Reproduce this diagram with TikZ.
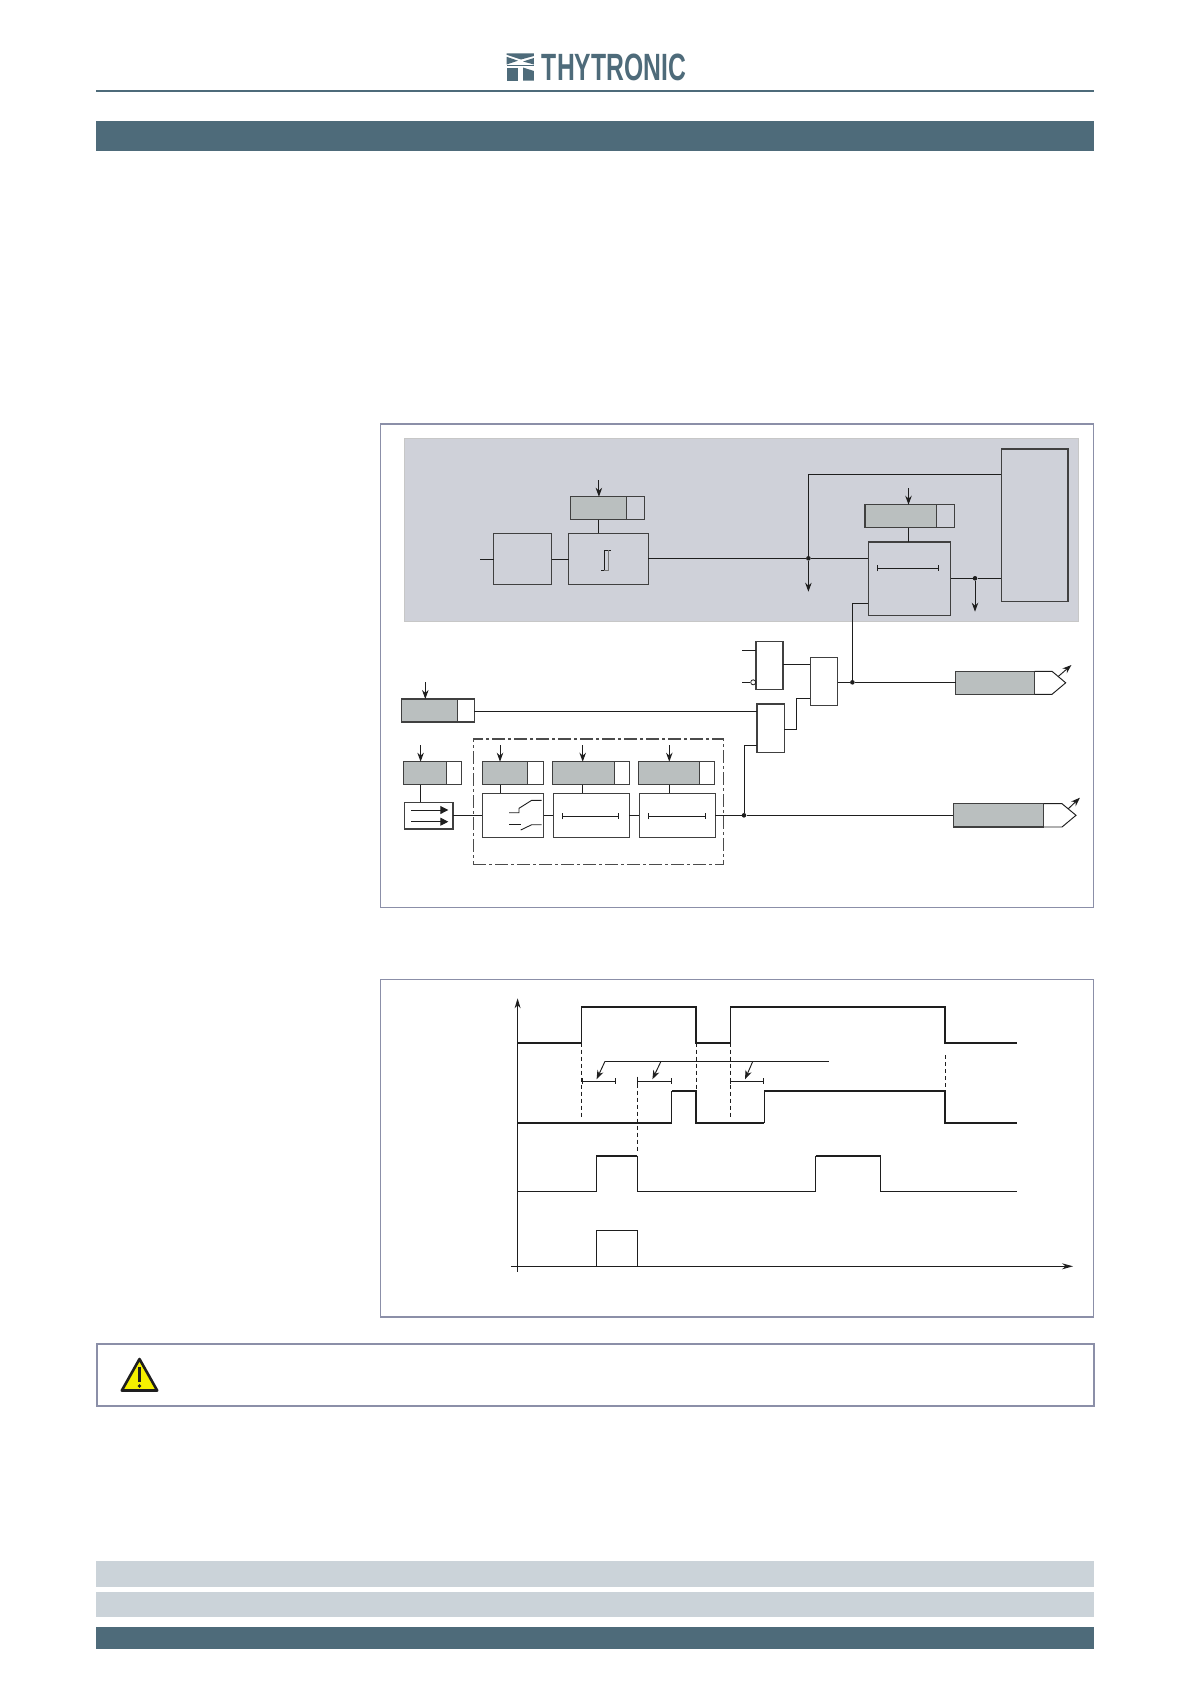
\documentclass[tikz,border=0pt]{standalone}
\usepackage{fontspec}
\setmainfont{Liberation Sans}
\usetikzlibrary{calc,arrows.meta}

\definecolor{thyblue}{HTML}{4E6B7A}
\definecolor{thylight}{HTML}{CBD3D9}
\definecolor{panelline}{HTML}{8B8FA8}
\definecolor{areagray}{HTML}{CFD1D9}
\definecolor{setgray}{HTML}{BABFBF}
\definecolor{inkline}{HTML}{1E1E1E}
\definecolor{warnyellow}{HTML}{F5F000}

\tikzset{
  panel/.style={draw=panelline, line width=1.8pt},
  blockbox/.style={draw=inkline!85, line width=1.1pt, inner sep=0pt, outer sep=0pt},
  setbox/.style={blockbox, fill=setgray},
  valbox/.style={blockbox},
  wire/.style={draw=inkline, line width=0.95pt},
  setarrow/.style={wire, -{Stealth[length=9pt,width=6.5pt]}},
  timerbar/.style={wire, {Bar[width=6pt]}-{Bar[width=6pt]}},
  jointdot/.style={circle, fill=inkline, inner sep=0pt, minimum size=4.6pt},
  trace/.style={draw=inkline, line width=1.05pt},
  tracethick/.style={draw=inkline, line width=2pt},
  guide/.style={draw=inkline, line width=0.9pt, dash pattern=on 4pt off 3pt}
}

\begin{document}
\begin{tikzpicture}[x=1pt,y=-1pt]
  \useasboundingbox (0,0) rectangle (1190,1684);

  % page furniture
  \draw[thyblue, line width=1.8pt] (96,91) -- (1094,91);
  \fill[thyblue] (96,121) rectangle (1094,150.7);
  \fill[thylight] (96,1561) rectangle (1094,1586.7);
  \fill[thylight] (96,1592) rectangle (1094,1616.7);
  \fill[thyblue] (96,1627.3) rectangle (1094,1649);

  % logo
  \fill[thyblue] (506.7,53.3) -- (533.9,53.3) -- (533.9,56) -- (521,59.5) -- (506.7,54.8) -- cycle;
  \fill[thyblue] (506.7,56.8) -- (518,60.7) -- (506.7,64.5) -- cycle;
  \fill[thyblue] (533.9,58) -- (523,61.5) -- (533.9,64.5) -- cycle;
  \fill[thyblue] (506.7,64.5) rectangle (533.9,66);
  \fill[thyblue] (506.7,67.5) rectangle (518,80.7);
  \fill[thyblue] (523,67.5) -- (533.9,71) -- (533.9,80.7) -- (523,80.7) -- cycle;
  \node[xscale=0.65, inner sep=0pt, text=thyblue, font=\fontsize{38}{38}\selectfont\bfseries] (logo) at (614,67) {THYTRONIC};

  % panels
  \draw[panel] (380.4,424) rectangle (1093.4,907.5);
  \draw[panel] (380.4,979.5) rectangle (1093.4,1316.7);
  \draw[panel] (96.7,1344) rectangle (1094,1406);

  % grey area of the upper part
  \fill[areagray] (404,438.3) rectangle (1078.8,621.7);
  \draw[draw=black!22, line width=0.8pt] (404,438.3) rectangle (1078.8,621.7);

  % function blocks
  \foreach \n/\xa/\ya/\xb/\yb in {
    filter/493.6/533.3/551.7/584.7,
    hyst/568.7/533.3/648.4/584.7,
    delay/868.4/542/950.5/615.3,
    logic/1001.4/449/1068/601.3,
    gateA/756/641.7/783/689.7,
    gateB/810.4/657.3/837.8/705.7,
    gateC/757/704/784.4/752.3,
    binin/404.5/802.3/453/829,
    switch/482.3/793.3/543.7/837.7,
    timerA/553.3/793.3/629.3/837.7,
    timerB/639.3/793.3/715.3/837.7
  }
    \node[blockbox, anchor=north west, minimum width=\xb-\xa, minimum height=\yb-\ya] (\n) at (\xa,\ya) {};

  % setting boxes with their value cell and entry arrow
  \foreach \n/\xa/\xb/\xc/\ya/\xin/\yin in {
    setHyst/570.6/626.7/644.7/496.7/598.9/480,
    setDelay/865/936.8/954.7/504.7/908.5/488.3,
    setGate/401.2/457.4/474.4/699/425.3/682.3,
    setBin/403.6/446.5/461.6/761.7/420.6/745,
    setSwitch/482.3/527.7/543.7/761.7/500/745,
    setTimerA/552.7/614.3/629.7/761.7/582.7/745,
    setTimerB/638.3/699.7/714.7/761.7/669.3/745
  }{
    \node[setbox, anchor=north west, minimum width=\xb-\xa, minimum height=23] (\n) at (\xa,\ya) {};
    \node[valbox, anchor=north west, minimum width=\xc-\xb, minimum height=23] (val\n) at (\xb,\ya) {};
    \coordinate (in\n) at (\xin,\yin);
    \draw[setarrow] (in\n) -- (in\n |- \n.north);
  }

  \draw[wire] (insetHyst |- setHyst.south) -- (insetHyst |- hyst.north);
  \draw[wire] (insetDelay |- setDelay.south) -- (insetDelay |- delay.north);
  \draw[wire] (insetBin |- setBin.south) -- (insetBin |- binin.north);
  \draw[wire] (insetSwitch |- setSwitch.south) -- (insetSwitch |- switch.north);
  \draw[wire] (insetTimerA |- setTimerA.south) -- (insetTimerA |- timerA.north);
  \draw[wire] (insetTimerB |- setTimerB.south) -- (insetTimerB |- timerB.north);

  % upper signal path
  \coordinate (filter in) at (480,559.3);
  \draw[wire] (filter in) -- (filter in -| filter.west);
  \draw[wire] (filter.east) -- (hyst.west);
  \node[jointdot] (joint start) at (808.4,558.3) {};
  \draw[wire] (hyst.east |- joint start) -- (joint start) -- (joint start -| delay.west);
  \coordinate (start out) at (808.4,591.7);
  \draw[setarrow] (joint start) -- (start out);
  \coordinate (logic back) at (1001.4,474.3);
  \draw[wire] (joint start) -- (joint start |- logic back) -- (logic back);
  \node[jointdot] (joint trip) at (975,578.3) {};
  \draw[wire] (delay.east |- joint trip) -- (joint trip) -- (joint trip -| logic.west);
  \coordinate (trip out) at (975,611.7);
  \draw[setarrow] (joint trip) -- (trip out);

  % glyphs inside the blocks
  \draw[wire, line width=0.8pt] (601.2,570) -- (604,570) -- (604,550.3) -- (610.7,550.3);
  \draw[wire, line width=1pt, draw=inkline!60] (608,550.3) -- (608,570) -- (604,570);
  \draw[timerbar] (877.3,568.3) -- (938.7,568.3);
  \draw[timerbar] (561.7,816.3) -- (618.7,816.3);
  \draw[timerbar] (647.7,816.3) -- (706.3,816.3);
  \draw[wire, line width=0.9pt] (509,812.7) -- (519,812.7) -- (519,808.3) -- (531.7,800.3) -- (541.7,800.3);
  \draw[wire, line width=0.9pt] (509,824.3) -- (520.7,824.3);
  \draw[wire, line width=0.9pt] (520.7,830) -- (531.7,824.7) -- (541.7,824.7);
  \draw[wire, -{Triangle[length=8pt,width=8pt]}] (411,810) -- (448.3,810);
  \draw[wire, -{Triangle[length=8pt,width=8pt]}] (411,821.7) -- (448.3,821.7);

  % gates
  \node[jointdot] (joint out) at (852.4,682.3) {};
  \coordinate (gateA top) at (742,650.3);
  \coordinate (gateA low) at (742,682.3);
  \node[circle, draw=inkline, line width=0.8pt, inner sep=0pt, minimum size=5pt] (gateA not) at (753.2,682.3) {};
  \draw[wire] (gateA top) -- (gateA top -| gateA.west);
  \draw[wire] (gateA low) -- (gateA not.west);
  \draw[wire] (gateA.east |- 0,664.3) -- (gateB.west |- 0,664.3);
  \draw[wire] (gateC.east |- 0,729) -- (796.2,729) -- (796.2,698.3) -- (gateB.west |- 0,698.3);
  \draw[wire] (gateB.east |- joint out) -- (joint out);
  \draw[wire] (joint out) -- (joint out |- 0,603.3) -- (delay.west |- 0,603.3);
  \draw[wire] (valsetGate.east |- 0,711) -- (gateC.west |- 0,711);

  % lower signal path
  \node[draw=inkline!80, line width=1.1pt, inner sep=0pt, outer sep=0pt, minimum width=250, minimum height=125.7,
    dash pattern=on 13pt off 3pt on 3pt off 3pt, anchor=north west] (timer frame) at (473.3,739) {};
  \node[jointdot] (joint inst) at (744,815.3) {};
  \draw[wire] (binin.east |- joint inst) -- (switch.west |- joint inst);
  \draw[wire] (switch.east |- joint inst) -- (timerA.west |- joint inst);
  \draw[wire] (timerA.east |- joint inst) -- (timerB.west |- joint inst);
  \draw[wire] (timerB.east |- joint inst) -- (joint inst);
  \draw[wire] (joint inst) -- (joint inst |- 0,745.7) -- (gateC.west |- 0,745.7);

  % output tags
  \node[setbox, anchor=north west, minimum width=78.9, minimum height=23] (tagA) at (955.7,671.3) {};
  \draw[wire] (tagA.east |- 0,671.3) -- (1052,671.3) -- (1065.7,682.8) -- (1052,694.3) -- (tagA.east |- 0,694.3);
  \coordinate (tagA tip) at (1071.4,665);
  \draw[setarrow] (1058,676.7) -- (tagA tip);
  \draw[wire] (joint out) -- (tagA.west |- joint out);

  \node[setbox, anchor=north west, minimum width=90.1, minimum height=23.3] (tagB) at (953.4,803.7) {};
  \draw[wire] (tagB.east |- 0,803.7) -- (1062,803.7) -- (1076,815.3) -- (1062,827) -- (tagB.east |- 0,827);
  \coordinate (tagB tip) at (1079.9,797.7);
  \draw[setarrow] (1068,809) -- (tagB tip);
  \draw[wire] (joint inst) -- (tagB.west |- joint inst);

  % timing diagram
  \draw[wire, -{Stealth[length=10pt,width=6pt]}] (517.6,1271.7) -- (517.6,998.3);
  \draw[wire, -{Stealth[length=11pt,width=6pt]}] (510.8,1266.3) -- (1073,1266.3);

  \draw[trace] (581.2,1042.7) -- (581.2,1006.7);
  \draw[trace] (730.3,1042.7) -- (730.3,1006.7);
  \draw[tracethick] (517.6,1042.7) -- (581.2,1042.7);
  \draw[tracethick] (581.2,1006.7) -- (696.3,1006.7) -- (696.3,1042.7) -- (730.3,1042.7);
  \draw[tracethick] (730.3,1006.7) -- (944.6,1006.7) -- (944.6,1042.7) -- (1017,1042.7);

  \draw[tracethick] (517.6,1122.7) -- (671.8,1122.7);
  \draw[trace] (671.8,1122.7) -- (671.8,1091);
  \draw[tracethick] (671.8,1091) -- (696.3,1091) -- (696.3,1122.7) -- (764.3,1122.7);
  \draw[trace] (764.3,1122.7) -- (764.3,1091) -- (944.6,1091);
  \draw[tracethick] (944.6,1091) -- (944.6,1122.7) -- (1017,1122.7);

  \draw[trace] (517.6,1191.3) -- (596.3,1191.3) -- (596.3,1155.7);
  \draw[tracethick] (596.3,1155.7) -- (637.4,1155.7);
  \draw[trace] (637.4,1155.7) -- (637.4,1191.3) -- (815.7,1191.3) -- (815.7,1155.7);
  \draw[tracethick] (815.7,1155.7) -- (880.6,1155.7);
  \draw[trace] (880.6,1155.7) -- (880.6,1191.3) -- (1017,1191.3);

  \draw[trace] (596.3,1266.3) -- (596.3,1230.3) -- (637.4,1230.3) -- (637.4,1266.3);

  \draw[guide] (581.2,1042.7) -- (581.2,1119.3);
  \draw[guide] (637.4,1076.7) -- (637.4,1153.3);
  \draw[guide] (696.3,1042.7) -- (696.3,1122.7);
  \draw[guide] (730.3,1042.7) -- (730.3,1119.3);
  \draw[guide] (945.4,1055) -- (945.4,1091);

  \draw[timerbar] (581.6,1081.3) -- (615.6,1081.3);
  \draw[timerbar] (637.4,1081.3) -- (671.8,1081.3);
  \draw[timerbar] (730.3,1081.3) -- (764.3,1081.3);
  \draw[wire] (605,1061.3) -- (828.8,1061.3);
  \draw[setarrow] (605,1061.3) -- (596.6,1079.3);
  \draw[setarrow] (661,1061.3) -- (652.4,1079.3);
  \draw[setarrow] (752.8,1061.3) -- (745,1079.3);

  % warning sign
  \draw[fill=warnyellow, draw=inkline, line width=2.6pt, line join=round]
    (139.5,1359) -- (157.2,1390.5) -- (121.8,1390.5) -- cycle;
  \draw[inkline, line width=2.4pt] (139.5,1367) -- (139.5,1382);
  \fill[inkline] (139.5,1386) circle (1.8pt);
\end{tikzpicture}
\end{document}
